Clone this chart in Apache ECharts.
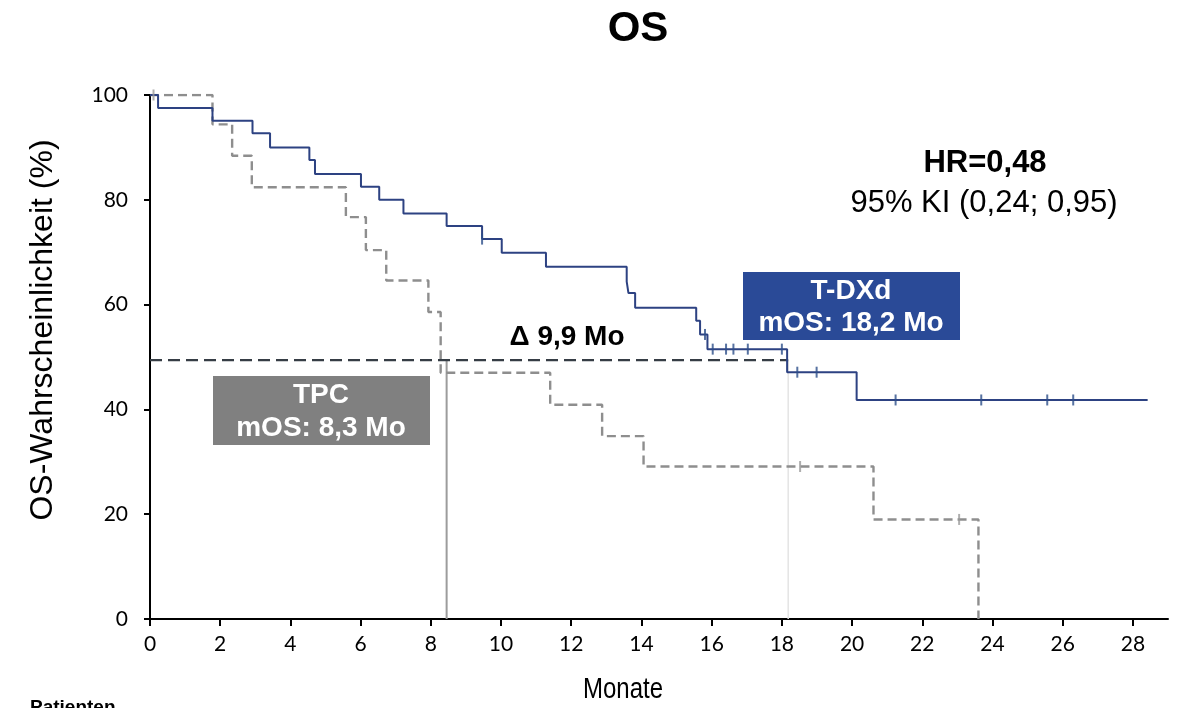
<!DOCTYPE html>
<html>
<head>
<meta charset="utf-8">
<script src="https://cdn.jsdelivr.net/npm/echarts@6/dist/echarts.min.js"></script>
<style>
  html, body { margin: 0; padding: 0; background: #fff; }
  #chart { width: 1183px; height: 708px; }
</style>
</head>
<body>
<div id="chart"></div>
<script>
// month ticks on x axis
var monthTicks = [0, 2, 4, 6, 8, 10, 12, 14, 16, 18, 20, 22, 24, 26, 28];

// T-DXd Kaplan-Meier steps: time (months) where survival drops, and new survival (%)
var tdxdTimes = [0, 0.23, 1.78, 2.92, 3.42, 4.54, 4.70, 6.01, 6.53, 7.22, 8.45, 9.46, 10.02, 11.28, 13.58, 13.63, 13.82, 15.56, 15.67, 15.88, 18.15, 20.13, 28.42];
var tdxdSurv  = [100, 97.5, 95.1, 92.7, 90.0, 87.6, 84.9, 82.5, 80.0, 77.4, 75.0, 72.5, 69.9, 67.2, 64.4, 62.2, 59.4, 56.9, 54.3, 51.5, 47.1, 41.8, 41.8];
var tdxdCensTimes = [9.46, 15.81, 16.03, 16.41, 16.62, 17.03, 18.0, 18.44, 18.99, 21.24, 23.68, 25.56, 26.30];
var tdxdCensSurv  = [72.5, 54.3, 51.5, 51.5, 51.5, 51.5, 51.5, 47.1, 47.1, 41.8, 41.8, 41.8, 41.8];

// TPC Kaplan-Meier steps
var tpcTimes = [0, 1.78, 2.34, 2.90, 5.58, 6.15, 6.73, 7.93, 8.28, 11.40, 12.88, 14.06, 20.61, 23.60];
var tpcSurv  = [100, 94.4, 88.4, 82.4, 76.7, 70.4, 64.6, 58.6, 47.0, 40.9, 34.9, 29.1, 19.0, 0];
var tpcCensTimes = [0.1, 18.52, 23.05];
var tpcCensSurv  = [100, 29.1, 19.0];

// medians
var medianLevel = 49.4;
var tpcMedian = 8.45;
var tdxdMedian = 18.18;

function pairs(xs, ys) {
  return xs.map(function (x, i) { return [x, ys[i]]; });
}

var chart = echarts.init(document.getElementById('chart'));

var sans = '"Liberation Sans", Arial, sans-serif';
var tickFont = 'Lato, "Liberation Sans", sans-serif';

var option = {
  animation: false,
  backgroundColor: '#fff',
  grid: { left: 150, right: 15, top: 95, bottom: 89 },
  xAxis: {
    type: 'value',
    min: 0,
    max: 29,
    interval: 2,
    axisLine: { lineStyle: { color: '#000', width: 2 } },
    axisTick: { show: true, length: 7, lineStyle: { color: '#000', width: 2 }, customValues: monthTicks },
    axisLabel: { color: '#000', fontFamily: tickFont, fontSize: 21, margin: 15, customValues: monthTicks },
    splitLine: { show: false }
  },
  yAxis: {
    type: 'value',
    min: 0,
    max: 100,
    interval: 20,
    axisLine: { show: true, lineStyle: { color: '#000', width: 2 } },
    axisTick: { show: true, length: 6, lineStyle: { color: '#000', width: 2 } },
    axisLabel: { color: '#000', fontFamily: tickFont, fontSize: 21, margin: 22 },
    splitLine: { show: false }
  },
  series: [
    {
      name: 'T-DXd Median',
      type: 'line',
      data: [[tdxdMedian, medianLevel], [tdxdMedian, 0]],
      symbol: 'none',
      lineStyle: { color: '#e4e4e4', width: 1.5 },
      z: 1
    },
    {
      name: 'TPC Median',
      type: 'line',
      data: [[tpcMedian, medianLevel], [tpcMedian, 0]],
      symbol: 'none',
      lineStyle: { color: '#9c9c9c', width: 2 },
      z: 1
    },
    {
      name: 'Median',
      type: 'line',
      data: [[0, medianLevel], [tdxdMedian, medianLevel]],
      symbol: 'none',
      lineStyle: { color: '#363d45', width: 2.2, type: [12, 6] },
      z: 3
    },
    {
      name: 'TPC',
      type: 'line',
      step: 'end',
      data: pairs(tpcTimes, tpcSurv),
      symbol: 'none',
      lineStyle: { color: '#8e8e8e', width: 2.4, type: [9, 5] },
      z: 2
    },
    {
      name: 'T-DXd',
      type: 'line',
      step: 'end',
      data: pairs(tdxdTimes, tdxdSurv),
      symbol: 'none',
      lineStyle: { color: '#2d4282', width: 2 },
      z: 4
    },
    {
      name: 'T-DXd zensiert',
      type: 'scatter',
      data: pairs(tdxdCensTimes, tdxdCensSurv),
      symbol: 'rect',
      symbolSize: [2, 11],
      itemStyle: { color: '#2d4f8a' },
      z: 5
    },
    {
      name: 'TPC zensiert',
      type: 'scatter',
      data: pairs(tpcCensTimes, tpcCensSurv),
      symbol: 'rect',
      symbolSize: [2, 11],
      itemStyle: { color: '#9a9a9a' },
      z: 5
    }
  ],
  graphic: [
    {
      type: 'text', x: 638, y: 29,
      style: { text: 'OS', font: 'bold 42px ' + sans, fill: '#000', align: 'center', verticalAlign: 'middle' }
    },
    {
      type: 'text', x: 985, y: 163,
      style: { text: 'HR=0,48', font: 'bold 31px ' + sans, fill: '#000', align: 'center', verticalAlign: 'middle' }
    },
    {
      type: 'text', x: 984, y: 203,
      style: { text: '95% KI (0,24; 0,95)', font: '31px ' + sans, fill: '#000', align: 'center', verticalAlign: 'middle' }
    },
    {
      type: 'text', x: 567, y: 337,
      style: { text: '\u0394 9,9 Mo', font: 'bold 28px ' + sans, fill: '#000', align: 'center', verticalAlign: 'middle' }
    },
    {
      type: 'rect', shape: { x: 743, y: 272, width: 217, height: 68 },
      style: { fill: '#2a4a97' }, z: 10
    },
    {
      type: 'text', x: 851, y: 291, z: 11,
      style: { text: 'T-DXd', font: 'bold 28px ' + sans, fill: '#fff', align: 'center', verticalAlign: 'middle' }
    },
    {
      type: 'text', x: 851, y: 323, z: 11,
      style: { text: 'mOS: 18,2 Mo', font: 'bold 28px ' + sans, fill: '#fff', align: 'center', verticalAlign: 'middle' }
    },
    {
      type: 'rect', shape: { x: 213, y: 376, width: 217, height: 69 },
      style: { fill: '#808080' }, z: 10
    },
    {
      type: 'text', x: 321, y: 395, z: 11,
      style: { text: 'TPC', font: 'bold 28px ' + sans, fill: '#fff', align: 'center', verticalAlign: 'middle' }
    },
    {
      type: 'text', x: 321, y: 428, z: 11,
      style: { text: 'mOS: 8,3 Mo', font: 'bold 28px ' + sans, fill: '#fff', align: 'center', verticalAlign: 'middle' }
    },
    {
      type: 'text', x: 43, y: 330, rotation: Math.PI / 2,
      style: { text: 'OS-Wahrscheinlichkeit (%)', font: '32px ' + sans, fill: '#000', align: 'center', verticalAlign: 'middle' }
    },
    {
      type: 'text', x: 623, y: 690, scaleX: 0.8,
      style: { text: 'Monate', font: '30px ' + sans, fill: '#000', align: 'center', verticalAlign: 'middle' }
    },
    {
      type: 'text', x: 30, y: 698,
      style: { text: 'Patienten', font: 'bold 19px ' + sans, fill: '#000', align: 'left', verticalAlign: 'top' }
    }
  ]
};

chart.setOption(option);
</script>
</body>
</html>
